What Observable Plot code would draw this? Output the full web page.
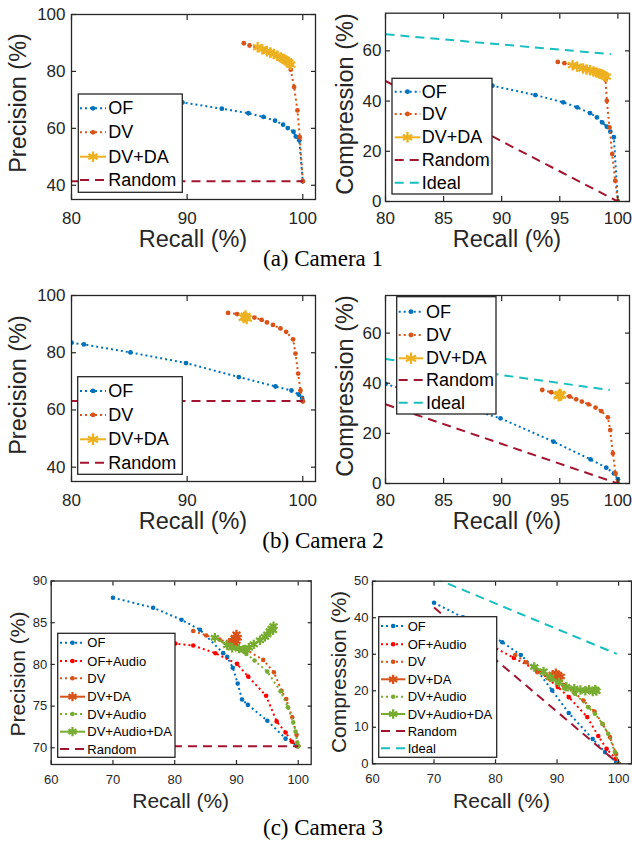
<!DOCTYPE html>
<html>
<head>
<meta charset="utf-8">
<script src="https://cdn.jsdelivr.net/npm/d3@7"></script>
<script src="https://cdn.jsdelivr.net/npm/@observablehq/plot@0.6"></script>
<style>
  html, body { margin: 0; padding: 0; background: #fff; }
  #page { position: relative; width: 632px; height: 842px; overflow: hidden; background: #fff; }
</style>
</head>
<body>
<div id="page"></div>
<script>
// ---------------- DATA (recall %, value %) ----------------
// Camera 1 – precision
const c1_prec_OF     = [[86,70.8],[89.6,69.1],[93.0,66.9],[95.3,65.3],[96.6,64.0],[97.6,62.7],[98.3,61.3],[98.7,60.1],[99.2,58.8],[99.4,57.1],[99.7,55.8],[100,41.4]];
const c1_prec_DV     = [[94.9,89.9],[95.4,89.1],[96.7,87.7],[97.6,86.0],[98.3,84.3],[98.96,80.6],[99.25,74.5],[99.54,66.3],[99.74,56.9],[100,41.4]];
const c1_prec_DVDA   = [[96.1,88.5],[96.5,87.8],[96.9,87.1],[97.2,86.6],[97.5,86.1],[97.8,85.5],[98.1,84.9],[98.3,84.4],[98.5,84.0],[98.7,83.5],[98.8,83.1],[98.95,82.4]];
const c1_prec_Random = [[80,41.4],[100,41.4]];
// Camera 1 – compression
const c1_comp_OF     = [[87,47.5],[89.2,46.1],[92.9,42.4],[95.3,39.5],[96.5,37.5],[97.6,35.2],[98.2,33.5],[98.65,31.5],[99.05,29.8],[99.35,27.8],[99.65,25.6],[100,0]];
const c1_comp_DV     = [[94.83,55.6],[95.4,55.1],[96.3,54.2],[97.2,53.2],[98.0,52.2],[98.6,51.0],[98.94,48.5],[99.05,40.1],[99.28,29.5],[99.51,18.9],[99.77,8.3],[100,0]];
const c1_comp_DVDA   = [[96.1,54.3],[96.5,53.7],[97.0,53.0],[97.3,52.6],[97.6,52.3],[97.9,51.8],[98.15,51.4],[98.4,51.0],[98.6,50.7],[98.8,50.2],[99.0,49.7]];
const c1_comp_Random = [[80,48],[100,0]];
const c1_comp_Ideal  = [[80,66.6],[99.4,58.7]];
// Camera 2 – precision
const c2_prec_OF     = [[80,83.5],[81.07,82.9],[85.1,80.1],[89.9,76.4],[94.47,71.5],[97.64,68.2],[99.02,66.8],[99.65,65.4],[99.94,64.2],[100,63.1]];
const c2_prec_DV     = [[93.54,93.9],[94.32,93.5],[95.04,92.6],[95.82,92.3],[96.43,91.5],[96.9,90.6],[97.42,89.7],[98.07,88.5],[98.56,87.3],[99.16,84.7],[99.37,79.7],[99.6,72.7],[99.8,66.8],[100,63.0]];
const c2_prec_DVDA   = [[94.9,92.3],[95.05,92.8],[95.15,92.0]];
const c2_prec_Random = [[80,63.1],[100,63.1]];
// Camera 2 – compression
const c2_comp_OF     = [[80,39.7],[89.9,26.0],[94.46,16.7],[97.65,9.6],[99.0,6.3],[99.66,4.0],[100,1.7],[100,0]];
const c2_comp_DV     = [[93.49,37.3],[94.26,36.4],[94.98,35.3],[95.84,34.7],[96.41,33.6],[96.9,32.7],[97.48,31.6],[98.08,30.3],[98.57,28.9],[99.14,26.4],[99.34,21.3],[99.57,12],[99.8,4],[100,0]];
const c2_comp_DVDA   = [[94.9,35.0],[95.0,35.6],[95.1,35.2]];
const c2_comp_Random = [[80,31.6],[100,0]];
const c2_comp_Ideal  = [[80,49.7],[99.3,37.3]];
// Camera 3 – precision
const c3_prec_OF     = [[70.0,88.0],[76.5,86.8],[81.1,85.35],[84.1,84.15],[87.85,81.35],[88.5,80.9],[89.4,79.6],[90.2,77.7],[90.9,75.8],[91.85,75.15],[95.0,73.25],[97.95,71.1],[100,70.2]];
const c3_prec_OFA    = [[79,82.6],[80.1,82.5],[83.0,82.26],[86.6,81.34],[90.1,80.06],[91.9,78.54],[94.8,76.25],[96.5,73.17],[97.95,71.84],[99.0,70.72],[99.8,70.2]];
const c3_prec_DV     = [[83.0,84.0],[85.1,83.47],[87.26,82.99],[91.53,81.78],[94.33,80.54],[96.06,79.06],[97.3,76.85],[98.06,75.85],[99.03,73.65],[99.73,71.56],[100,70.24]];
const c3_prec_DVDA   = [[88.9,82.6],[89.3,82.8],[89.7,83.2],[90.0,83.6],[90.2,83.2],[90.0,82.8],[89.6,82.6]];
const c3_prec_DVAu   = [[86.5,83.2],[89.5,82.0],[91.6,81.26],[92.93,80.46],[94.98,79.14],[97.14,76.77],[98.33,74.85],[99.19,73.05],[99.57,71.96],[99.84,70.64],[100,70.2]];
const c3_prec_DVAuDA = [[86.5,83.2],[88.5,82.3],[89.3,82.0],[90.4,81.9],[91.2,81.8],[92.0,82.0],[92.8,82.4],[93.8,82.9],[94.6,83.3],[95.0,83.6],[95.4,84.0],[95.7,84.3],[96.0,84.6],[95.9,84.1]];
const c3_prec_Random = [[70,70.2],[100,70.2]];
// Camera 3 – compression
const c3_comp_OF     = [[70,44.1],[74.7,40.1],[81.1,33.3],[84.1,29.8],[86.8,25.5],[89.2,20.1],[91.9,13.9],[95.8,6.8],[97.8,3.2],[99.6,0.5],[100,0]];
const c3_comp_OFA    = [[78,33.5],[82.98,29.0],[87.32,25.1],[90.14,21.0],[91.92,18.25],[94.9,12.8],[96.7,7.6],[98.05,4.1],[99.5,1.4],[100,0]];
const c3_comp_DV     = [[83.2,29.8],[85.0,27.8],[86.8,25.1],[89.0,23.5],[91.0,21.6],[92.8,19.5],[94.3,17.3],[96.1,14.3],[97.4,10.9],[98.6,7.3],[99.6,2.7],[100,0]];
const c3_comp_DVDA   = [[88.8,23.8],[89.3,24.4],[89.8,24.8],[90.2,24.3],[90.6,23.9],[90.3,23.2],[89.9,23.6]];
const c3_comp_DVAu   = [[86.3,26.5],[89.3,23.0],[91.2,20.6],[92.9,19.2],[95.07,15.5],[96.15,13.7],[97.4,10.9],[98.32,8.2],[99.4,3.2],[100,0]];
const c3_comp_DVAuDA = [[86.3,26.5],[87.8,25.3],[88.9,23.7],[90.3,22.3],[91.5,21.1],[92.8,20.6],[93.8,20.2],[94.6,20.0],[95.2,20.3],[95.8,19.8],[96.2,20.3],[96.4,19.9]];
const c3_comp_Random = [[70,42.8],[100,0]];
const c3_comp_Ideal  = [[70,50.9],[99.7,30.1]];

// tick labels
const ticksRecallAB_prec = [80, 90, 100];
const ticksRecallAB_comp = [80, 85, 90, 95, 100];
const ticksPrecAB        = [40, 60, 80, 100];
const ticksCompAB        = [0, 20, 40, 60];
const ticksRecallC       = [60, 70, 80, 90, 100];
const ticksPrecC         = [70, 75, 80, 85, 90];
const ticksCompC         = [0, 10, 20, 30, 40, 50];

// texts
const yLabelPrec = "Precision (%)";
const yLabelComp = "Compression (%)";
const xLabel = "Recall (%)";
const captions = ["(a) Camera 1", "(b) Camera 2", "(c) Camera 3"];

// ---------------- STYLE ----------------
const COL = {OF:"#0072BD", OFA:"#FF0000", DV:"#D95319", DVDA:"#EDB120", DVAu:"#77AC30", RND:"#A2142F", IDEAL:"#17BFBF"};
const DASH = {dot:"2,3", dash:"9,6", solid:null};
const FONT = "'Liberation Sans', Arial, Helvetica, sans-serif";
const INK = "#262626";
function S(label, data, color, style, marker) { return {label, data, color, style, marker}; }

const panels = [
  {frame:[71,14,315,199], xd:[80,101.1], yd:[35,100], xt:ticksRecallAB_prec, yt:ticksPrecAB, tf:17, xpad:12, ypad:6, tick:5, ms:{dot:2.4, ast:5},
   series:[S("OF",c1_prec_OF,COL.OF,"dot","dot"), S("DV",c1_prec_DV,COL.DV,"dot","dot"), S("DV+DA",c1_prec_DVDA,COL.DVDA,"solid","ast"), S("Random",c1_prec_Random,COL.RND,"dash",null)],
   legend:{box:[78.3,94,182.3,192.3], rows:[108.3,132.3,156.7,180], sx:[80,106], tx:108.3, fs:18}},
  {frame:[385,12.7,629,201], xd:[80,101], yd:[0,75], xt:ticksRecallAB_comp, yt:ticksCompAB, tf:17, xpad:10, ypad:4, tick:5, ms:{dot:2.4, ast:5},
   series:[S("OF",c1_comp_OF,COL.OF,"dot","dot"), S("DV",c1_comp_DV,COL.DV,"dot","dot"), S("DV+DA",c1_comp_DVDA,COL.DVDA,"solid","ast"), S("Random",c1_comp_Random,COL.RND,"dash",null), S("Ideal",c1_comp_Ideal,COL.IDEAL,"dash",null)],
   legend:{box:[392,78.3,492,194], rows:[91.7,114,137.3,160,182.7], sx:[394.7,420.3], tx:421.7, fs:18}},
  {frame:[71,295,315,481], xd:[80,101.1], yd:[35,100], xt:ticksRecallAB_prec, yt:ticksPrecAB, tf:17, xpad:12, ypad:6, tick:5, ms:{dot:2.4, ast:5.5},
   series:[S("OF",c2_prec_OF,COL.OF,"dot","dot"), S("DV",c2_prec_DV,COL.DV,"dot","dot"), S("DV+DA",c2_prec_DVDA,COL.DVDA,"solid","ast"), S("Random",c2_prec_Random,COL.RND,"dash",null)],
   legend:{box:[77.7,376.7,182.3,474.3], rows:[390.9,414.9,439.3,462.7], sx:[80,106], tx:108.3, fs:18}},
  {frame:[385,295,629,483], xd:[80,101], yd:[0,75], xt:ticksRecallAB_comp, yt:ticksCompAB, tf:17, xpad:10, ypad:4, tick:5, ms:{dot:2.4, ast:5.5},
   series:[S("OF",c2_comp_OF,COL.OF,"dot","dot"), S("DV",c2_comp_DV,COL.DV,"dot","dot"), S("DV+DA",c2_comp_DVDA,COL.DVDA,"solid","ast"), S("Random",c2_comp_Random,COL.RND,"dash",null), S("Ideal",c2_comp_Ideal,COL.IDEAL,"dash",null)],
   legend:{box:[396.7,296.7,496,414], rows:[311.7,335,358.3,380,402.7], sx:[398.7,423.3], tx:426, fs:18}},
  {frame:[50.7,580.5,310.7,764], xd:[60,102.1], yd:[68,90], xt:ticksRecallC, yt:ticksPrecC, tf:13, xpad:10, ypad:4, tick:4, ms:{dot:2.3, ast:4.4},
   series:[S("OF",c3_prec_OF,COL.OF,"dot","dot"), S("OF+Audio",c3_prec_OFA,COL.OFA,"dot","dot"), S("DV",c3_prec_DV,COL.DV,"dot","dot"), S("DV+DA",c3_prec_DVDA,COL.DV,"solid","ast"),
           S("DV+Audio",c3_prec_DVAu,COL.DVAu,"dot","dot"), S("DV+Audio+DA",c3_prec_DVAuDA,COL.DVAu,"solid","ast"), S("Random",c3_prec_Random,COL.RND,"dash",null)],
   legend:{box:[57.7,633.3,175,757.3], rows:[642.7,661,678.3,696.7,714,731.7,749], sx:[60,85], tx:87.3, fs:13}},
  {frame:[372,580.7,631,763.3], xd:[60,102.1], yd:[0,50], xt:ticksRecallC, yt:ticksCompC, tf:13, xpad:10, ypad:4, tick:4, ms:{dot:2.3, ast:4.4},
   series:[S("OF",c3_comp_OF,COL.OF,"dot","dot"), S("OF+Audio",c3_comp_OFA,COL.OFA,"dot","dot"), S("DV",c3_comp_DV,COL.DV,"dot","dot"), S("DV+DA",c3_comp_DVDA,COL.DV,"solid","ast"),
           S("DV+Audio",c3_comp_DVAu,COL.DVAu,"dot","dot"), S("DV+Audio+DA",c3_comp_DVAuDA,COL.DVAu,"solid","ast"), S("Random",c3_comp_Random,COL.RND,"dash",null), S("Ideal",c3_comp_Ideal,COL.IDEAL,"dash",null)],
   legend:{box:[378.7,616.7,496.7,757.3], rows:[626,644.3,661.7,679.3,696.7,714,731,748.3], sx:[381,405.3], tx:407.7, fs:13}}
];

const texts = [
  {t:yLabelPrec, x:26, y:103, fs:23.5, rot:true}, {t:xLabel, x:193, y:247, fs:23.5},
  {t:yLabelComp, x:353, y:104, fs:23.5, rot:true}, {t:xLabel, x:507, y:247, fs:23.5},
  {t:yLabelPrec, x:26, y:385, fs:23.5, rot:true}, {t:xLabel, x:193, y:529, fs:23.5},
  {t:yLabelComp, x:353, y:386, fs:23.5, rot:true}, {t:xLabel, x:507, y:529, fs:23.5},
  {t:yLabelPrec, x:25, y:674, fs:21, rot:true}, {t:xLabel, x:180.7, y:808, fs:21},
  {t:yLabelComp, x:346, y:672, fs:21, rot:true}, {t:xLabel, x:501.5, y:808, fs:21},
  {t:captions[0], x:323, y:266, fs:23, serif:true},
  {t:captions[1], x:323, y:548, fs:23, serif:true},
  {t:captions[2], x:323, y:835, fs:23, serif:true}
];

// ---------------- DRAW ----------------
const page = document.getElementById("page");
const xy = {x: d => d[0], y: d => d[1], clip: true};

function seriesMarks(s, ms) {
  const out = [Plot.line(s.data, {...xy, stroke: s.color, strokeWidth: 2, strokeDasharray: DASH[s.style], strokeLinecap: "butt", strokeLinejoin: "round"})];
  if (s.marker === "dot") out.push(Plot.dot(s.data, {...xy, r: ms.dot, fill: s.color}));
  if (s.marker === "ast") out.push(Plot.dot(s.data, {...xy, r: ms.ast, symbol: "asterisk", stroke: s.color, strokeWidth: 2.3}));
  return out;
}

for (const p of panels) {
  const [l, t, r, b] = p.frame;
  const marks = [];
  for (const s of p.series) marks.push(...seriesMarks(s, p.ms));
  const fmt = d => String(d);
  marks.push(
    Plot.axisX(p.xt, {anchor: "bottom", tickSize: 0, tickPadding: p.xpad, fontSize: p.tf, fill: INK, tickFormat: fmt, label: null}),
    Plot.axisX(p.xt, {anchor: "bottom", tickSize: -p.tick, fill: "none", stroke: INK, strokeWidth: 1.2, tickFormat: fmt, label: null}),
    Plot.axisX(p.xt, {anchor: "top", tickSize: -p.tick, fill: "none", stroke: INK, strokeWidth: 1.2, tickFormat: fmt, label: null}),
    Plot.axisY(p.yt, {anchor: "left", tickSize: 0, tickPadding: p.ypad, fontSize: p.tf, fill: INK, tickFormat: fmt, label: null}),
    Plot.axisY(p.yt, {anchor: "left", tickSize: -p.tick, fill: "none", stroke: INK, strokeWidth: 1.2, tickFormat: fmt, label: null}),
    Plot.axisY(p.yt, {anchor: "right", tickSize: -p.tick, fill: "none", stroke: INK, strokeWidth: 1.2, tickFormat: fmt, label: null}),
    Plot.frame({stroke: INK, strokeWidth: 1.3})
  );
  const svg = Plot.plot({
    width: 632, height: 842,
    marginLeft: l, marginTop: t, marginRight: 632 - r, marginBottom: 842 - b,
    x: {domain: p.xd}, y: {domain: p.yd},
    style: {background: "transparent", fontFamily: FONT, overflow: "visible"},
    marks
  });
  svg.style.position = "absolute";
  svg.style.left = "0px";
  svg.style.top = "0px";
  svg.style.maxWidth = "none";
  page.appendChild(svg);
}

// overlay: legends, axis titles, captions
const ov = d3.create("svg").attr("width", 632).attr("height", 842)
  .style("position", "absolute").style("left", "0px").style("top", "0px").style("overflow", "visible");

for (const p of panels) {
  const L = p.legend;
  const g = ov.append("g");
  g.append("rect").attr("x", L.box[0]).attr("y", L.box[1]).attr("width", L.box[2] - L.box[0]).attr("height", L.box[3] - L.box[1])
    .attr("fill", "#fff").attr("stroke", INK).attr("stroke-width", 1.3);
  p.series.forEach((s, i) => {
    const y = L.rows[i];
    const mid = (L.sx[0] + L.sx[1]) / 2;
    const ln = g.append("line").attr("x1", L.sx[0]).attr("x2", L.sx[1]).attr("y1", y).attr("y2", y)
      .attr("stroke", s.color).attr("stroke-width", 2);
    if (DASH[s.style]) ln.attr("stroke-dasharray", DASH[s.style]);
    if (s.marker === "dot") g.append("circle").attr("cx", mid).attr("cy", y).attr("r", p.ms.dot).attr("fill", s.color);
    if (s.marker === "ast") g.append("path").attr("transform", `translate(${mid},${y})`)
      .attr("d", d3.symbol(d3.symbolAsterisk, Math.PI * p.ms.ast * p.ms.ast)())
      .attr("fill", "none").attr("stroke", s.color).attr("stroke-width", 2.3);
    g.append("text").attr("x", L.tx).attr("y", y).attr("dominant-baseline", "central")
      .attr("font-family", FONT).attr("font-size", L.fs).attr("fill", "#000").text(s.label);
  });
}

for (const tx of texts) {
  const el = ov.append("text").attr("text-anchor", "middle")
    .attr("font-family", tx.serif ? "'Liberation Serif', 'Times New Roman', serif" : FONT)
    .attr("font-size", tx.fs).attr("fill", tx.serif ? "#000" : INK).text(tx.t);
  if (tx.rot) el.attr("transform", `translate(${tx.x},${tx.y}) rotate(-90)`);
  else el.attr("x", tx.x).attr("y", tx.y);
}

page.appendChild(ov.node());
</script>
</body>
</html>
